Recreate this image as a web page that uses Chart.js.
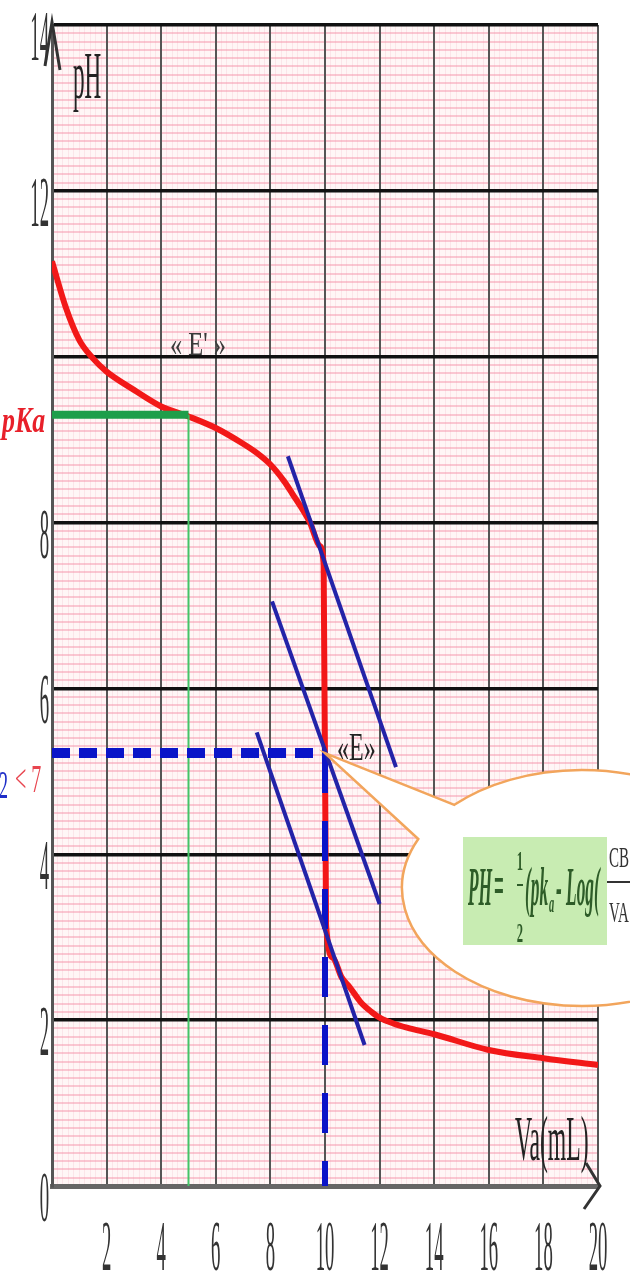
<!DOCTYPE html>
<html>
<head>
<meta charset="utf-8">
<script src="https://cdn.jsdelivr.net/npm/chart.js@4.4.1/dist/chart.umd.min.js"></script>
<style>
  html, body { margin: 0; padding: 0; background: #fff; }
  #box { width: 630px; height: 1287px; }
</style>
</head>
<body>
<div id="box"><canvas id="myChart"></canvas></div>
<script>
// titration curve pH = f(Va)
const vaMl = [0, 0.5, 1, 1.5, 2, 3, 4, 5, 6, 7, 7.5, 8, 8.5, 8.8, 9.45, 9.8, 9.95, 10.04, 10.3, 10.6, 10.9, 11.3, 11.7, 12, 12.5, 13, 14, 16, 18, 20];
const phCurve = [11.15, 10.6, 10.2, 9.98, 9.82, 9.6, 9.4, 9.28, 9.14, 8.95, 8.84, 8.7, 8.5, 8.35, 8.0, 7.72, 7.5, 3.15, 2.75, 2.52, 2.4, 2.22, 2.1, 2.03, 1.96, 1.91, 1.83, 1.64, 1.54, 1.46];

// the three parallel tangents (start / end)
const tangentVa = [[8.64, 12.6], [8.06, 12.0], [7.5, 11.45]];
const tangentPh = [[8.8, 5.05], [7.05, 3.4], [5.47, 1.7]];

// equivalence point E and half equivalence E'
const eqVa = 10;
const eqPh = 5.22;
const halfVa = 5;
const pKa = 9.3;

// tick labels (10 is replaced by the pKa mark)
const xTickLabels = ['', '2', '4', '6', '8', '10', '12', '14', '16', '18', '20'];
const yTickLabels = ['0', '2', '4', '6', '8', '', '12', '14'];

function pts(xs, ys) {
    return xs.map((v, i) => ({x: v, y: ys[i]}));
}

// squeezed serif text, the picture is very narrow
function squeeze(c, txt, x, y, size, sx, color, align, style) {
    c.save();
    c.font = (style || '') + ' ' + size + 'px "Liberation Serif", serif';
    c.fillStyle = color;
    c.textBaseline = 'alphabetic';
    c.translate(x, y);
    c.scale(sx, 1);
    let w = c.measureText(txt).width;
    let dx = 0;
    if (align == 'center') dx = -w / 2;
    if (align == 'right') dx = -w;
    c.fillText(txt, dx, 0);
    c.restore();
}

const paper = {
    id: 'paper',
    beforeDraw(chart) {
        const c = chart.ctx, a = chart.chartArea;
        c.save();
        c.fillStyle = '#fff6f6';
        c.fillRect(a.left, a.top, a.right - a.left, a.bottom - a.top);
        c.restore();
    }
};

const extras = {
    id: 'extras',
    afterDatasetsDraw(chart) {
        const c = chart.ctx;
        const xs = chart.scales.x, ys = chart.scales.y;
        const a = chart.chartArea;

        // callout bubble pointing at E
        const ex = xs.getPixelForValue(eqVa), ey = ys.getPixelForValue(eqPh);
        const cx = 582, cy = 888, rx = 180, ry = 118;
        const a1 = Math.atan2((802 - cy) / ry, (450 - cx) / rx);
        const a2 = Math.atan2((838 - cy) / ry, (415 - cx) / rx);
        c.save();
        c.beginPath();
        c.moveTo(ex, ey);
        c.lineTo(cx + rx * Math.cos(a1), cy + ry * Math.sin(a1));
        c.ellipse(cx, cy, rx, ry, 0, a1, a2, false);
        c.closePath();
        c.fillStyle = '#ffffff';
        c.fill();
        c.strokeStyle = '#f2a55c';
        c.lineWidth = 2.5;
        c.stroke();

        // formula
        c.fillStyle = '#c8ecb2';
        c.fillRect(463, 837, 144, 108);
        const g = '#2e5c28';
        squeeze(c, 'PH', 468, 905, 54, 0.32, g, 'left', 'italic bold');
        squeeze(c, '=', 494, 903, 54, 0.32, g, 'left', 'bold');
        squeeze(c, '1', 520, 870, 28, 0.45, g, 'center', 'bold');
        c.fillStyle = g;
        c.fillRect(517, 884, 6, 2);
        squeeze(c, '2', 520, 942, 28, 0.45, g, 'center', 'bold');
        squeeze(c, '(pk', 525, 905, 54, 0.32, g, 'left', 'italic bold');
        squeeze(c, 'a', 549, 912, 26, 0.4, g, 'left', 'italic bold');
        squeeze(c, '- Log(', 556, 905, 54, 0.32, g, 'left', 'italic bold');
        squeeze(c, 'CB', 609, 867, 30, 0.5, '#333', 'left', '');
        c.fillStyle = '#333';
        c.fillRect(607, 881, 25, 2);
        squeeze(c, 'VA', 609, 922, 30, 0.5, '#333', 'left', '');

        // axis arrows
        c.strokeStyle = '#333';
        c.lineWidth = 3;
        c.beginPath();
        c.moveTo(45, 66); c.lineTo(a.left, a.top - 3); c.lineTo(60, 70);
        c.stroke();
        c.beginPath();
        c.moveTo(586, 1163); c.lineTo(a.right + 2, a.bottom); c.lineTo(584, 1209);
        c.stroke();
        c.restore();

        // tick labels from the scales
        xs.ticks.forEach((t, i) => {
            squeeze(c, xTickLabels[i] || '', xs.getPixelForValue(t.value), a.bottom + 84, 72, 0.26, '#333', 'center', '');
        });
        ys.ticks.forEach((t, i) => {
            squeeze(c, yTickLabels[i] || '', a.left - 3, ys.getPixelForValue(t.value) + 35, 72, 0.26, '#333', 'right', '');
        });

        // texts
        squeeze(c, 'pH', 73, 98, 68, 0.34, '#222', 'left', '');
        squeeze(c, 'pKa', 2, 432, 36, 0.72, '#e8202a', 'left', 'italic bold');
        squeeze(c, '« E\' »', 170, 355, 34, 0.72, '#3a3a3a', 'left', '');
        squeeze(c, '«E»', 337, 760, 40, 0.6, '#222', 'left', '');
        squeeze(c, '2', -1, 798, 40, 0.45, '#1e2ec8', 'left', '');
        squeeze(c, '< 7', 15, 792, 40, 0.5, '#e8454f', 'left', '');
        squeeze(c, 'Va(mL)', 515, 1160, 64, 0.37, '#222', 'left', '');
    }
};

const tangentSets = tangentVa.map((va, k) => ({
    data: pts(va, tangentPh[k]),
    borderColor: '#2323a8',
    borderWidth: 4
}));

const ctx = document.getElementById('myChart');

new Chart(ctx, {
    type: 'line',
    data: {
        datasets: tangentSets.concat([
            {   // blue dashed, horizontal
                data: pts([0, eqVa], [eqPh, eqPh]),
                borderColor: '#0a14c8',
                borderWidth: 10,
                borderDash: [18, 9]
            },
            {   // blue dashed, vertical
                data: pts([eqVa, eqVa], [eqPh, 0]),
                borderColor: '#0a14c8',
                borderWidth: 6,
                borderDash: [40, 28]
            },
            {   // green pKa line
                data: pts([0, halfVa], [pKa, pKa]),
                borderColor: '#1e9e4a',
                borderWidth: 8
            },
            {
                data: pts([halfVa, halfVa], [pKa, 0]),
                borderColor: '#44c468',
                borderWidth: 2
            },
            {   // the curve
                data: pts(vaMl, phCurve),
                borderColor: '#f21818',
                borderWidth: 6,
                cubicInterpolationMode: 'monotone'
            }
        ])
    },
    options: {
        responsive: true,
        maintainAspectRatio: false,
        animation: false,
        layout: { padding: { left: 52, right: 32, top: 25, bottom: 101 } },
        elements: { point: { radius: 0 } },
        plugins: {
            legend: { display: false },
            tooltip: { enabled: false }
        },
        scales: {
            x: {
                type: 'linear', min: 0, max: 20,
                ticks: { stepSize: 2, display: false },
                grid: { color: '#555', lineWidth: 2, drawTicks: false },
                border: { color: '#666', width: 5 }
            },
            y: {
                type: 'linear', min: 0, max: 14,
                ticks: { stepSize: 2, display: false },
                grid: { color: '#111', lineWidth: 3.5, drawTicks: false },
                border: { color: '#555', width: 3 }
            },
            xMinor: {
                type: 'linear', position: 'bottom', min: 0, max: 20,
                ticks: { stepSize: 0.2, display: false, maxTicksLimit: 200 },
                grid: { color: 'rgba(238,170,185,0.22)', lineWidth: 1, drawTicks: false, z: -2 },
                border: { display: false }
            },
            yMinor: {
                type: 'linear', position: 'left', min: 0, max: 14,
                ticks: { stepSize: 0.1, display: false, maxTicksLimit: 200 },
                grid: { color: 'rgba(245,150,172,0.5)', lineWidth: 2, drawTicks: false, z: -2 },
                border: { display: false }
            }
        }
    },
    plugins: [paper, extras]
});
</script>
</body>
</html>
